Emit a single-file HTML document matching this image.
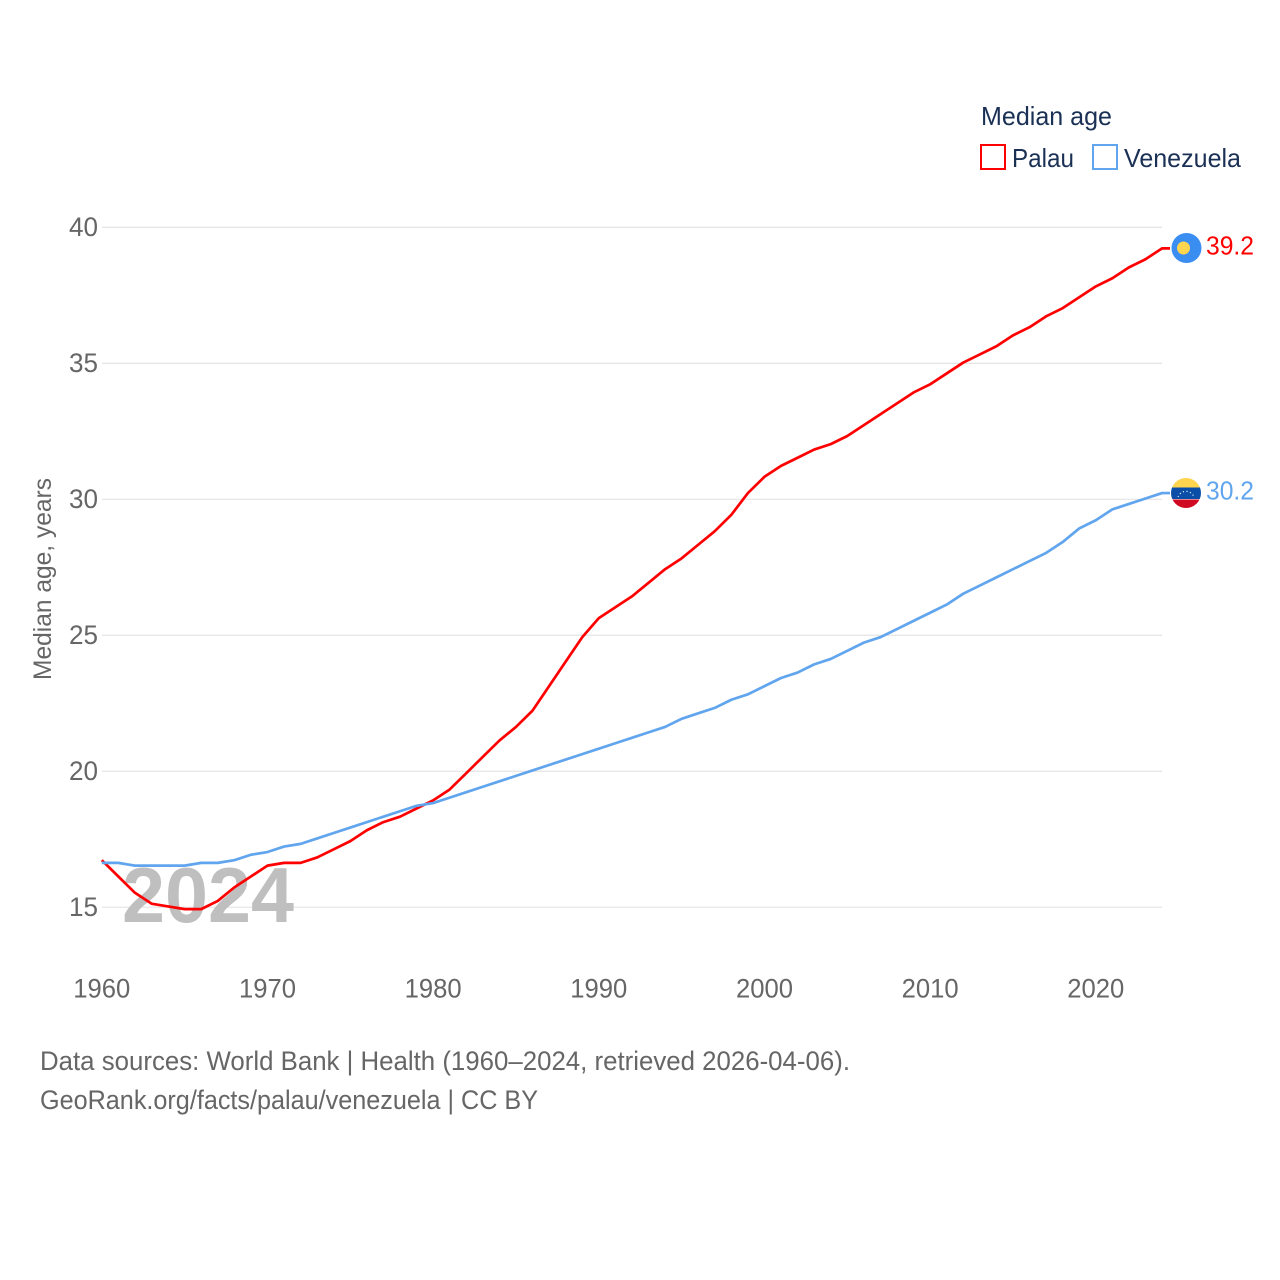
<!DOCTYPE html>
<html lang="en">
<head>
<meta charset="utf-8">
<title>Median age: Palau and Venezuela</title>
<style>
html,body{margin:0;padding:0;background:#fff;}
svg{display:block;font-family:"Liberation Sans",sans-serif;}
</style>
</head>
<body>
<svg id="chart" xmlns="http://www.w3.org/2000/svg" width="1280" height="1280" viewBox="0 0 1280 1280">
  <defs>
    <clipPath id="ve-clip"><circle id="ve-clip-circle" cx="1186" cy="493" r="15"></circle></clipPath>
  </defs>
  <rect x="0" y="0" width="1280" height="1280" fill="#ffffff"></rect>

  <g id="grid"></g>
  <text x="122" y="922" font-size="78" font-weight="700" fill="#bfbfbf" textLength="172" lengthAdjust="spacingAndGlyphs">2024</text>
  <g id="y-ticks"></g>
  <g id="x-ticks"></g>
  <g id="series"></g>

  <text transform="translate(51,579) rotate(-90)" text-anchor="middle" font-size="25" fill="#666666" textLength="202" lengthAdjust="spacingAndGlyphs">Median age, years</text>

  <g>
    <text x="981" y="125" font-size="26" fill="#1a3055" textLength="131" lengthAdjust="spacingAndGlyphs">Median age</text>
    <rect x="981" y="145" width="24" height="24" fill="#ffffff" stroke="#ff0000" stroke-width="2"></rect>
    <text x="1012" y="167" font-size="26" fill="#1a3055" textLength="62" lengthAdjust="spacingAndGlyphs">Palau</text>
    <rect x="1093" y="145" width="24" height="24" fill="#ffffff" stroke="#60a5ee" stroke-width="2"></rect>
    <text x="1124" y="167" font-size="26" fill="#1a3055" textLength="117" lengthAdjust="spacingAndGlyphs">Venezuela</text>
  </g>

  <g id="flag-palau">
    <circle cx="1186.5" cy="248" r="15" fill="#3a8ef2"></circle>
    <circle cx="1183.5" cy="248" r="6.5" fill="#ffd44f"></circle>
  </g>
  <g id="flag-venezuela" clip-path="url(#ve-clip)">
    <rect x="1171" y="478" width="30" height="10" fill="#ffd44f"></rect>
    <rect x="1171" y="487.5" width="30" height="11.5" fill="#0a4ea8"></rect>
    <rect x="1171" y="499.5" width="30" height="10" fill="#cf0a22"></rect>
    <path d="M1178 497 A8.5 8.5 0 0 1 1194 497" fill="none" stroke="#dfe8f5" stroke-width="1.2" stroke-dasharray="1.2 2.4"></path>
  </g>

  <text id="value-palau" x="1206" y="254.5" font-size="25.5" fill="#ff0000" textLength="48" lengthAdjust="spacingAndGlyphs"></text>
  <text id="value-venezuela" x="1206" y="499.5" font-size="25.5" fill="#60a5ee" textLength="48" lengthAdjust="spacingAndGlyphs"></text>

  <text x="40" y="1070" font-size="26.5" fill="#666666" textLength="810" lengthAdjust="spacingAndGlyphs">Data sources: World Bank | Health (1960–2024, retrieved 2026-04-06).</text>
  <text x="40" y="1109" font-size="26.5" fill="#666666" textLength="498" lengthAdjust="spacingAndGlyphs">GeoRank.org/facts/palau/venezuela | CC BY</text>
</svg>

<script>
const firstYear = 1960;
const xTickLabels = [1960, 1970, 1980, 1990, 2000, 2010, 2020];
const yTickLabels = [15, 20, 25, 30, 35, 40];
const palauValues = [16.7,16.1,15.5,15.1,15.0,14.9,14.9,15.2,15.7,16.1,16.5,16.6,16.6,16.8,17.1,17.4,17.8,18.1,18.3,18.6,18.9,19.3,19.9,20.5,21.1,21.6,22.2,23.1,24.0,24.9,25.6,26.0,26.4,26.9,27.4,27.8,28.3,28.8,29.4,30.2,30.8,31.2,31.5,31.8,32.0,32.3,32.7,33.1,33.5,33.9,34.2,34.6,35.0,35.3,35.6,36.0,36.3,36.7,37.0,37.4,37.8,38.1,38.5,38.8,39.2];
const venezuelaValues = [16.6,16.6,16.5,16.5,16.5,16.5,16.6,16.6,16.7,16.9,17.0,17.2,17.3,17.5,17.7,17.9,18.1,18.3,18.5,18.7,18.8,19.0,19.2,19.4,19.6,19.8,20.0,20.2,20.4,20.6,20.8,21.0,21.2,21.4,21.6,21.9,22.1,22.3,22.6,22.8,23.1,23.4,23.6,23.9,24.1,24.4,24.7,24.9,25.2,25.5,25.8,26.1,26.5,26.8,27.1,27.4,27.7,28.0,28.4,28.9,29.2,29.6,29.8,30.0,30.2];

const NS = 'http://www.w3.org/2000/svg';
function xScale(year) { return 101.8 + (year - 1960) * (1096 - 102) / 60; }
function yScale(v) { return 907.2 - (v - 15) * (907.2 - 227.4) / 25; }

const grid = document.getElementById('grid');
const yTicks = document.getElementById('y-ticks');
const xTicks = document.getElementById('x-ticks');
const seriesGroup = document.getElementById('series');

yTickLabels.forEach(function (v) {
  const gridline = document.createElementNS(NS, 'line');
  
  
  gridline.setAttribute('x1', 102);
  gridline.setAttribute('x2', 1162);
  gridline.setAttribute('y1', yScale(v));
  gridline.setAttribute('y2', yScale(v));
  gridline.setAttribute('stroke', '#e4e4e4');
  gridline.setAttribute('stroke-width', '1.2');
  grid.appendChild(gridline);

  const label = document.createElementNS(NS, 'text');
  
  
  label.setAttribute('x', 98);
  label.setAttribute('y', yScale(v) + 8.8);
  label.setAttribute('text-anchor', 'end');
  label.setAttribute('font-size', '26.5');
  label.setAttribute('fill', '#666666');
  label.setAttribute('textLength', '29');
  label.setAttribute('lengthAdjust', 'spacingAndGlyphs');
  label.textContent = v;
  yTicks.appendChild(label);
});

xTickLabels.forEach(function (year) {
  const label = document.createElementNS(NS, 'text');
  
  
  label.setAttribute('x', xScale(year));
  label.setAttribute('y', 997.5);
  label.setAttribute('text-anchor', 'middle');
  label.setAttribute('font-size', '26.5');
  label.setAttribute('fill', '#666666');
  label.setAttribute('textLength', '57');
  label.setAttribute('lengthAdjust', 'spacingAndGlyphs');
  label.textContent = year;
  xTicks.appendChild(label);
});

function linePoints(values) {
  const pts = values.map(function (v, i) {
    return xScale(firstYear + i).toFixed(2) + ',' + (yScale(v) - 0.8).toFixed(2);
  });
  const last = values[values.length - 1];
  pts.push('1170,' + (yScale(last) - 0.8).toFixed(2));
  return pts.join(' ');
}

const palauLine = document.createElementNS(NS, 'polyline');


palauLine.setAttribute('points', linePoints(palauValues));
palauLine.setAttribute('fill', 'none');
palauLine.setAttribute('stroke', '#ff0000');
palauLine.setAttribute('stroke-width', '2.7');
palauLine.setAttribute('stroke-linejoin', 'round');
seriesGroup.appendChild(palauLine);

const venezuelaLine = document.createElementNS(NS, 'polyline');


venezuelaLine.setAttribute('points', linePoints(venezuelaValues));
venezuelaLine.setAttribute('fill', 'none');
venezuelaLine.setAttribute('stroke', '#60a5ee');
venezuelaLine.setAttribute('stroke-width', '2.7');
venezuelaLine.setAttribute('stroke-linejoin', 'round');
seriesGroup.appendChild(venezuelaLine);

const palauLast = palauValues[palauValues.length - 1];
const venezuelaLast = venezuelaValues[venezuelaValues.length - 1];
document.getElementById('value-palau').textContent = palauLast.toFixed(1);
document.getElementById('value-venezuela').textContent = venezuelaLast.toFixed(1);

const palauShift = yScale(palauLast) - yScale(39.2);
const venezuelaShift = yScale(venezuelaLast) - yScale(30.2);
document.getElementById('flag-palau').setAttribute('transform', 'translate(0,' + palauShift + ')');
document.getElementById('value-palau').setAttribute('transform', 'translate(0,' + palauShift + ')');
document.getElementById('flag-venezuela').setAttribute('transform', 'translate(0,' + venezuelaShift + ')');
document.getElementById('value-venezuela').setAttribute('transform', 'translate(0,' + venezuelaShift + ')');
</script>
</body>
</html>
